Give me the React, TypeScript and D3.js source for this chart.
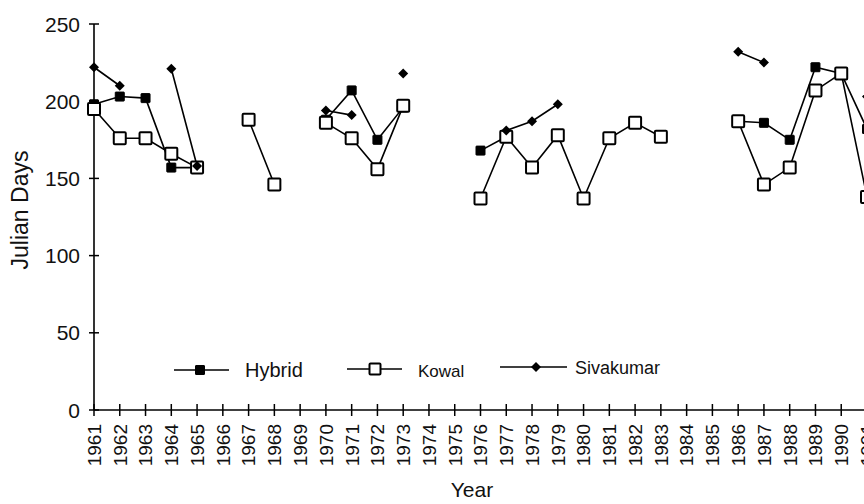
import React from "react";
import * as d3 from "d3";

const years: number[] = d3.range(1961, 1992);
const yTicks: number[] = [0, 50, 100, 150, 200, 250];

// values indexed by year 1961..1991 (null = missing)
const hybrid: (number | null)[] = [
  198, 203, 202, 157, 157, null, null, null, null, 188,
  207, 175, 196, null, null, 168, 177, null, null, null,
  null, null, null, null, null, 187, 186, 175, 222, 218,
  182,
];
const kowal: (number | null)[] = [
  195, 176, 176, 166, 157, null, 188, 146, null, 186,
  176, 156, 197, null, null, 137, 177, 157, 178, 137,
  176, 186, 177, null, null, 187, 146, 157, 207, 218,
  138,
];
const sivakumar: (number | null)[] = [
  222, 210, null, 221, 158, null, null, null, null, 194,
  191, null, 218, null, null, null, 181, 187, 198, null,
  null, null, null, null, null, 232, 225, null, null, null,
  203,
];

const W = 864;
const H = 504;
const FONT = "'Liberation Sans', Arial, Helvetica, sans-serif";

export default function App() {
  const x = d3.scaleLinear().domain([1961, 1991]).range([94, 867]);
  const y = d3.scaleLinear().domain([0, 250]).range([410, 24]);

  const mk = (arr: (number | null)[]) =>
    arr.map((v, i) => ({ year: years[i], v }));

  const line = d3
    .line<{ year: number; v: number | null }>()
    .defined((d) => d.v !== null)
    .x((d) => x(d.year))
    .y((d) => y(d.v as number));

  const hyb = mk(hybrid);
  const kow = mk(kowal);
  const siv = mk(sivakumar);

  const sq = (cx: number, cy: number, s: number, filled: boolean, key: string) => (
    <rect
      key={key}
      x={cx - s / 2}
      y={cy - s / 2}
      width={s}
      height={s}
      fill={filled ? "#000" : "#fff"}
      stroke="#000"
      strokeWidth={filled ? 1 : 2}
      rx={filled ? 0.5 : 1}
    />
  );
  const diamond = (cx: number, cy: number, r: number, key: string) => (
    <path
      key={key}
      d={`M${cx},${cy - r}L${cx + r},${cy}L${cx},${cy + r}L${cx - r},${cy}Z`}
      fill="#000"
    />
  );

  const lineStyle = { fill: "none", stroke: "#000", strokeWidth: 1.6 };

  return (
    <svg
      width={W}
      height={H}
      style={{ position: "absolute", left: 0, top: 0, display: "block", background: "#fff" }}
      fontFamily={FONT}
    >
      <rect width={W} height={H} fill="#fff" />
      {/* axes */}
      <line x1={x(1961)} x2={W} y1={y(0)} y2={y(0)} stroke="#000" strokeWidth={1.6} />
      <line x1={x(1961)} x2={x(1961)} y1={y(0)} y2={y(250)} stroke="#000" strokeWidth={1.6} />
      {yTicks.map((t) => (
        <g key={"yt" + t}>
          <line x1={x(1961) - 5} x2={x(1961) + 5} y1={y(t)} y2={y(t)} stroke="#000" strokeWidth={1.5} />
          <text x={80} y={y(t)} dy="0.36em" textAnchor="end" fontSize={21} fill="#111">
            {t}
          </text>
        </g>
      ))}
      {years.map((yr) => (
        <g key={"xt" + yr}>
          <line x1={x(yr)} x2={x(yr)} y1={y(0) - 6} y2={y(0) + 6} stroke="#000" strokeWidth={1.5} />
          <text
            transform={`translate(${x(yr)},${y(0) + 14}) rotate(-90)`}
            dy="0.36em"
            textAnchor="end"
            fontSize={19}
            fill="#111"
          >
            {yr}
          </text>
        </g>
      ))}
      <text
        transform={`translate(28,${210}) rotate(-90)`}
        textAnchor="middle"
        fontSize={23}
        fill="#111"
      >
        Julian Days
      </text>
      <text x={472} y={497} textAnchor="middle" fontSize={21} fill="#111">
        Year
      </text>

      {/* series lines */}
      <path d={line(siv) || ""} {...lineStyle} />
      <path d={line(hyb) || ""} {...lineStyle} />
      <path d={line(kow) || ""} {...lineStyle} />

      {/* markers */}
      {hyb.filter((d) => d.v !== null).map((d) => sq(x(d.year), y(d.v as number), 9, true, "h" + d.year))}
      {kow.filter((d) => d.v !== null).map((d) => sq(x(d.year), y(d.v as number), 12, false, "k" + d.year))}
      {siv.filter((d) => d.v !== null).map((d) => diamond(x(d.year), y(d.v as number), 5, "s" + d.year))}

      {/* legend */}
      <g>
        <line x1={174} x2={229} y1={370} y2={370} stroke="#000" strokeWidth={1.6} />
        {sq(200, 370, 9, true, "lh")}
        <text x={245} y={377} fontSize={20} fill="#111">Hybrid</text>

        <line x1={347} x2={402} y1={369} y2={369} stroke="#000" strokeWidth={1.6} />
        {sq(375, 369, 11, false, "lk")}
        <text x={418} y={377} fontSize={17} fill="#111">Kowal</text>

        <line x1={500} x2={567} y1={367} y2={367} stroke="#000" strokeWidth={1.6} />
        {diamond(536, 367, 5, "ls")}
        <text x={575} y={374} fontSize={18} fill="#111">Sivakumar</text>
      </g>
    </svg>
  );
}
